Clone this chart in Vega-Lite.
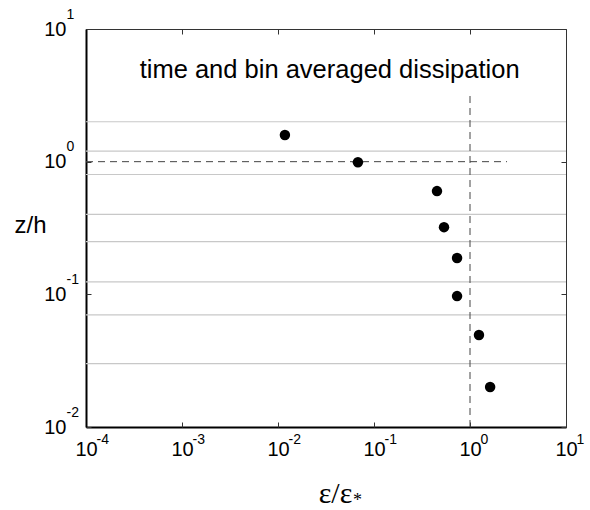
{
  "$schema": "https://vega.github.io/schema/vega-lite/v6.json",
  "width": 480,
  "height": 398,
  "autosize": {"type": "none"},
  "padding": {"left": 86, "top": 29, "right": 24, "bottom": 83},
  "background": "white",
  "config": {
    "view": {"stroke": "#333333", "strokeWidth": 1},
    "font": "Liberation Sans",
    "axis": {"grid": false, "labelFlush": false, "labelColor": "#000000", "labelFont": "Liberation Sans", "labelOverlap": false, "titleColor": "#000000", "titleFontWeight": "normal"}
  },
  "datasets": {
    "points": [
      {"eps": 0.0118, "z": 1.59},
      {"eps": 0.068, "z": 0.99},
      {"eps": 0.453, "z": 0.60},
      {"eps": 0.536, "z": 0.321},
      {"eps": 0.733, "z": 0.188},
      {"eps": 0.733, "z": 0.097},
      {"eps": 1.24, "z": 0.0493},
      {"eps": 1.62, "z": 0.020}
    ],
    "grid": [
      {"z": 2.0}, {"z": 1.2}, {"z": 0.8}, {"z": 0.4}, {"z": 0.25}, {"z": 0.124}, {"z": 0.07}, {"z": 0.03}
    ],
    "hline": [{"x1": 0.0001, "x2": 2.43, "z": 1}],
    "vline": [{"x": 1, "z1": 0.01, "z2": 3.35}],
    "label": [{"x": 0.0345, "z": 4.27, "text": "time and bin averaged dissipation"}]
  },
  "layer": [
    {
      "data": {"name": "grid"},
      "mark": {"type": "rule", "color": "#c8c8c8", "strokeWidth": 1.2},
      "encoding": {
        "y": {"field": "z", "type": "quantitative", "scale": {"type": "log", "domain": [0.01, 10], "nice": false}, "axis": null}
      }
    },
    {
      "data": {"name": "hline"},
      "mark": {"type": "rule", "color": "#444444", "strokeWidth": 1, "strokeDash": [7, 5]},
      "encoding": {
        "x": {"field": "x1", "type": "quantitative", "scale": {"type": "log", "domain": [0.0001, 10], "nice": false},
          "axis": {"orient": "bottom", "values": [0.0001, 0.001, 0.01, 0.1, 1, 10], "ticks": false, "domain": false,
            "labelExpr": "'' + round(log(datum.value)/LN10)", "labelFontSize": 14, "labelAlign": "left", "labelOffset": 10, "labelPadding": 5, "labelBaseline": "top",
            "title": "*", "titleFont": "Liberation Serif", "titleFontSize": 18, "titleX": 271, "titleY": 78, "titleBaseline": "alphabetic", "titleAlign": "center"}},
        "x2": {"field": "x2"},
        "y": {"field": "z", "type": "quantitative", "scale": {"type": "log", "domain": [0.01, 10], "nice": false},
          "axis": {"orient": "left", "values": [0.01, 0.1, 1, 10], "ticks": false, "domain": false,
            "labelExpr": "'' + round(log(datum.value)/LN10)", "labelFontSize": 14, "labelAlign": "left", "labelOffset": -15, "labelPadding": 20, "labelBaseline": "middle", "title": null}}
      }
    },
    {
      "data": {"name": "vline"},
      "mark": {"type": "rule", "color": "#444444", "strokeWidth": 1, "strokeDash": [7, 5]},
      "encoding": {
        "x": {"field": "x", "type": "quantitative", "scale": {"type": "log", "domain": [0.0001, 10], "nice": false},
          "axis": {"orient": "top", "values": [0.0001, 0.001, 0.01, 0.1, 1, 10], "labels": false, "domain": false, "tickSize": -5, "tickColor": "#333333", "tickWidth": 1, "title": null}},
        "y": {"field": "z1", "type": "quantitative", "scale": {"type": "log", "domain": [0.01, 10], "nice": false},
          "axis": {"orient": "right", "values": [0.01, 0.1, 1, 10], "labels": false, "domain": false, "tickSize": -5, "tickColor": "#333333", "tickWidth": 1, "title": null}},
        "y2": {"field": "z2"}
      }
    },
    {
      "data": {"name": "points"},
      "mark": {"type": "circle", "color": "#000000", "opacity": 1, "size": 110},
      "encoding": {
        "x": {"field": "eps", "type": "quantitative", "scale": {"type": "log", "domain": [0.0001, 10], "nice": false},
          "axis": {"orient": "bottom", "values": [0.0001, 0.001, 0.01, 0.1, 1, 10], "ticks": false, "domain": true, "domainColor": "#000000", "domainWidth": 2,
            "labelExpr": "'10'", "labelFontSize": 20, "labelAlign": "center", "labelPadding": 12, "labelBaseline": "top",
            "title": "ε/ε", "titleFont": "Liberation Serif", "titleFontSize": 30, "titleX": 249, "titleY": 75, "titleBaseline": "alphabetic", "titleAlign": "center"}},
        "y": {"field": "z", "type": "quantitative", "scale": {"type": "log", "domain": [0.01, 10], "nice": false},
          "axis": {"orient": "left", "values": [0.01, 0.1, 1, 10], "ticks": false, "domain": true, "domainColor": "#000000", "domainWidth": 2,
            "labelExpr": "'10'", "labelFontSize": 20, "labelAlign": "right", "labelPadding": 20, "labelBaseline": "middle",
            "title": "z/h", "titleAngle": 0, "titleFont": "Liberation Sans", "titleFontSize": 24, "titleX": -56, "titleY": 196, "titleAlign": "center", "titleBaseline": "middle"}}
      }
    },
    {
      "data": {"name": "label"},
      "mark": {"type": "text", "font": "Liberation Sans", "fontSize": 25.5, "align": "center", "baseline": "alphabetic", "color": "#000000"},
      "encoding": {
        "x": {"field": "x", "type": "quantitative", "scale": {"type": "log", "domain": [0.0001, 10], "nice": false},
          "axis": {"orient": "bottom", "values": [0.0001, 0.001, 0.01, 0.1, 1, 10], "labels": false, "domain": false, "tickSize": -5, "tickColor": "#333333", "tickWidth": 1, "title": null}},
        "y": {"field": "z", "type": "quantitative", "scale": {"type": "log", "domain": [0.01, 10], "nice": false},
          "axis": {"orient": "left", "values": [0.01, 0.1, 1, 10], "labels": false, "domain": false, "tickSize": -5, "tickColor": "#333333", "tickWidth": 1, "title": null}},
        "text": {"field": "text"}
      }
    }
  ],
  "resolve": {"axis": {"x": "independent", "y": "independent"}}
}
